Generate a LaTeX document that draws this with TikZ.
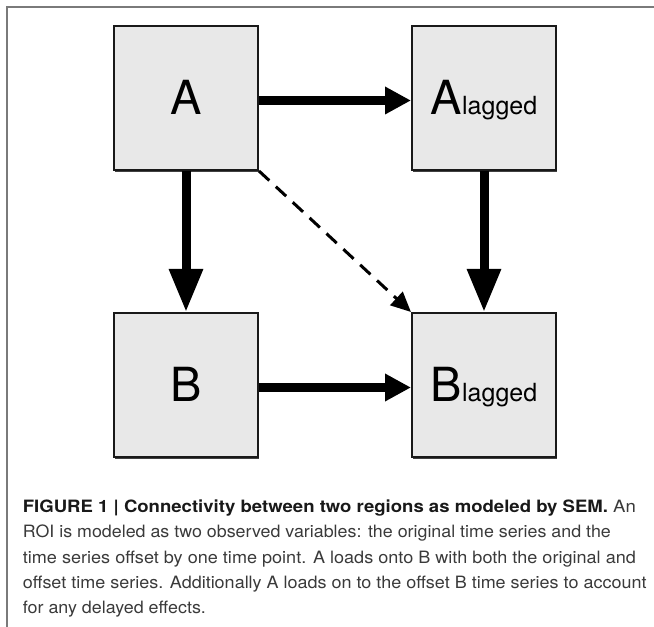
\documentclass[tikz,border=0pt]{standalone}
\usepackage{fontspec}
\setmainfont{TeX Gyre Heros}
\usepackage{graphicx}
\usetikzlibrary{arrows.meta, shadows}
\definecolor{boxFill}{HTML}{E8E8E8}
\definecolor{frameGray}{HTML}{7A7A7A}
\definecolor{capText}{HTML}{3A3A3A}
\newcommand{\lagsub}{{\fontsize{25}{25}\selectfont lagged}}
\newcommand{\capfit}[2]{\resizebox{#1}{\height}{#2}}

\begin{document}
\begin{tikzpicture}[x=1pt, y=1pt,
      var/.style={rectangle, draw=black!90, line width=2pt, fill=boxFill,
                  minimum width=144pt, minimum height=144pt, inner sep=0pt,
                  text height=34pt, text depth=0pt,
                  font=\fontsize{47}{47}\selectfont,
                  drop shadow={shadow xshift=0.5pt, shadow yshift=-2.5pt,
                               opacity=0.75, fill=black}},
      harr/.style={line width=9pt, -{Triangle[length=26pt, width=26pt]}},
      varr/.style={line width=9pt, -{Triangle[length=43pt, width=32pt]}},
      darr/.style={line width=3pt, dash pattern=on 14pt off 9pt,
                   -{Triangle[length=20pt, width=18pt]}},
      capline/.style={anchor=base west, inner sep=0pt, text=capText,
                      font=\fontsize{17}{17}\selectfont}]
    \useasboundingbox (0,0) rectangle (654,627);
    \draw[frameGray, line width=1.5pt] (654,620) -- (7,620) -- (7,0);

    \node[var] (A)    at (186,529) {A};
    \node[var] (Alag) at (484,529) {A\lagsub};
    \node[var] (B)    at (186,242) {B};
    \node[var] (Blag) at (484,242) {B\lagsub};

    \draw[harr] ([yshift=-2.5pt]A.east) -- ([yshift=-2.5pt]Alag.west);
    \draw[harr] ([yshift=-2.5pt]B.east) -- ([yshift=-2.5pt]Blag.west);
    \draw[varr] (A) -- (B);
    \draw[varr] (Alag) -- (Blag);
    \draw[darr] (A.south east) -- (Blag.north west);

    % caption
    \node[capline] (cap1) at (22.7,114.3) {\capfit{613pt}{{\color{black!90}\bfseries FIGURE 1 | Connectivity between two regions as modeled by SEM.} An}};
    \node[capline] (cap2) at (22.7,89.05) {\capfit{588pt}{ROI is modeled as two observed variables: the original time series and the}};
    \node[capline] (cap3) at (22.7,63.8) {\capfit{613pt}{time series offset by one time point. A loads onto B with both the original and}};
    \node[capline] (cap4) at (22.7,38.55) {\capfit{623.6pt}{offset time series. Additionally A loads on to the offset B time series to account}};
    \node[capline] (cap5) at (22.7,13.3) {\capfit{183pt}{for any delayed effects.}};
  \end{tikzpicture}
\end{document}
